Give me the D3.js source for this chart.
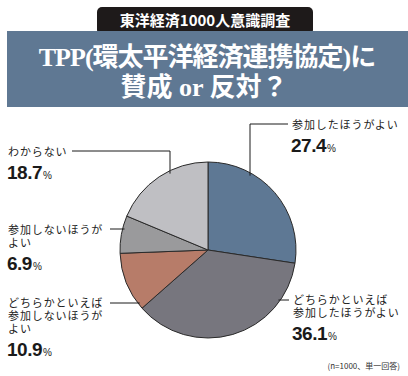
<!DOCTYPE html>
<html>
<head>
<meta charset="utf-8">
<script src="https://cdn.jsdelivr.net/npm/d3@7"></script>
<style>
  body { margin: 0; background: #fff; }
  svg { display: block; }
</style>
</head>
<body>
<svg id="chart" width="408" height="376"></svg>
<script>
const categories = [
  '参加したほうがよい',
  'どちらかといえば参加したほうがよい',
  'どちらかといえば参加しないほうがよい',
  '参加しないほうがよい',
  'わからない',
];
const values = [27.4, 36.1, 10.9, 6.9, 18.7];
const labelLines = [
  ['参加したほうがよい'],
  ['どちらかといえば', '参加したほうがよい'],
  ['どちらかといえば', '参加しないほうが', 'よい'],
  ['参加しないほうが', 'よい'],
  ['わからない'],
];
const sliceColors = ['#5e7894', '#77767e', '#b77c69', '#9a9a9c', '#bfbfc3'];

const svg = d3.select('#chart');
const jp = '"Noto Sans CJK JP", sans-serif';

// header
svg.append('rect')
  .attr('x', 97).attr('y', 7).attr('width', 216).attr('height', 28)
  .attr('rx', 5).attr('fill', '#1e1a1a');
svg.append('rect')
  .attr('x', 7).attr('y', 31).attr('width', 401).attr('height', 76)
  .attr('fill', '#5f7893');
svg.append('text')
  .attr('x', 205).attr('y', 26)
  .attr('text-anchor', 'middle')
  .attr('fill', '#fff')
  .style('font-family', jp).style('font-weight', 700).style('font-size', '15px')
  .text('東洋経済1000人意識調査');

const titleFont = '"Liberation Serif", "Noto Sans CJK JP", serif';
svg.append('text')
  .attr('x', 207).attr('y', 66)
  .attr('text-anchor', 'middle')
  .attr('fill', '#fff')
  .style('font-family', titleFont).style('font-weight', 700).style('font-size', '26px')
  .style('letter-spacing', '-1px')
  .text('TPP(環太平洋経済連携協定)に');
svg.append('text')
  .attr('x', 204).attr('y', 96)
  .attr('text-anchor', 'middle')
  .attr('fill', '#fff')
  .style('font-family', titleFont).style('font-weight', 700).style('font-size', '26px')
  .text('賛成 or 反対？');

// pie
const cx = 208, cy = 250, r = 88;
const pie = d3.pie().sort(null).value(d => d);
const arc = d3.arc().innerRadius(0).outerRadius(r);
const g = svg.append('g').attr('transform', `translate(${cx},${cy})`);
g.selectAll('path')
  .data(pie(values))
  .enter()
  .append('path')
  .attr('d', arc)
  .attr('fill', (d, i) => sliceColors[i])
  .attr('stroke', '#2a2a2a')
  .attr('stroke-width', 1);

// labels: text anchor, leader path
const layout = [
  { x: 292, y: 129, leader: { type: 'v', lx: 250, ly: 124, tx: 288 } },
  { x: 293, y: 304, leader: { type: 'h', ly: 300, tx: 289, side: 1 } },
  { x: 8, y: 307, leader: { type: 'h', ly: 303, tx: 110, side: -1 } },
  { x: 8, y: 234, leader: { type: 'h', ly: 229, tx: 110, side: -1 } },
  { x: 8, y: 156, leader: { type: 'v', lx: 170, ly: 151, tx: 72 } },
];

function circleY(x) {
  const dx = x - cx;
  return cy - Math.sqrt(r * r - dx * dx);
}
function circleX(y, side) {
  const dy = y - cy;
  return cx + side * Math.sqrt(r * r - dy * dy);
}

const labels = svg.append('g');
layout.forEach((p, i) => {
  const L = p.leader;
  let pts;
  if (L.type === 'v') {
    pts = [[L.tx, L.ly], [L.lx, L.ly], [L.lx, circleY(L.lx) + 3]];
  } else {
    pts = [[L.tx, L.ly], [circleX(L.ly, L.side) - L.side * 2, L.ly]];
  }
  labels.append('path')
    .attr('d', d3.line()(pts))
    .attr('fill', 'none')
    .attr('stroke', '#1a1a1a')
    .attr('stroke-width', 1);

  const t = labels.append('text')
    .attr('x', p.x).attr('y', p.y)
    .attr('fill', '#222')
    .style('font-family', jp).style('font-size', '11px')
    .style('letter-spacing', '0.9px');
  labelLines[i].forEach((line, j) => {
    t.append('tspan').attr('x', p.x).attr('y', p.y + j * 13).text(line);
  });
  const ny = p.y + (labelLines[i].length - 1) * 13 + 23;
  const num = labels.append('text')
    .attr('x', p.x - 1).attr('y', ny)
    .attr('fill', '#1a1a1a');
  num.append('tspan')
    .style('font-family', '"Liberation Sans", Arial, sans-serif')
    .style('font-weight', 700).style('font-size', '19px')
    .style('letter-spacing', '-0.5px')
    .text(values[i].toFixed(1));
  num.append('tspan')
    .attr('dx', 1)
    .style('font-family', '"Liberation Sans", Arial, sans-serif')
    .style('font-size', '10px')
    .text('%');
});

svg.append('text')
  .attr('x', 400).attr('y', 369)
  .attr('text-anchor', 'end')
  .attr('fill', '#333')
  .style('font-family', jp).style('font-size', '8px')
  .text('(n=1000、単一回答)');
</script>
</body>
</html>
